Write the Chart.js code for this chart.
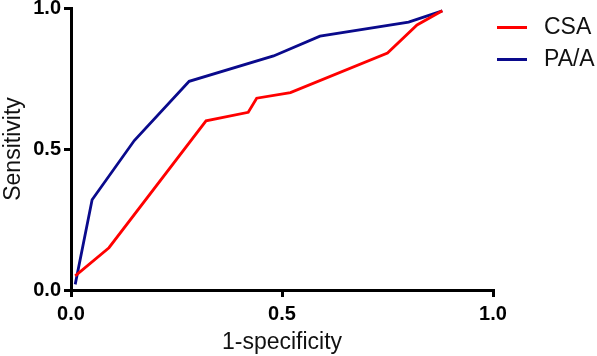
<!DOCTYPE html>
<html>
<head>
<meta charset="utf-8">
<script src="https://cdn.jsdelivr.net/npm/chart.js@4.4.0/dist/chart.umd.min.js"></script>
<style>
  html, body { margin: 0; padding: 0; background: #fff; }
  #wrap { position: relative; width: 597px; height: 356px; }
  #legend { position: absolute; left: 497px; top: 10px; font-family: Arial, "Liberation Sans", sans-serif; font-size: 23px; color: #111; }
  #legend div { height: 32px; display: flex; align-items: center; white-space: nowrap; }
  #legend span { display: inline-block; width: 30px; height: 3px; margin-right: 17px; position: relative; top: 1px; }
</style>
</head>
<body>
<div id="wrap">
  <canvas id="roc" width="597" height="356"></canvas>
  <div id="legend"></div>
</div>
<script>
// 1-specificity / sensitivity
const csaX = [0.01, 0.09, 0.32, 0.42, 0.44, 0.52, 0.75, 0.82, 0.88];
const csaY = [0.05, 0.15, 0.60, 0.63, 0.68, 0.70, 0.84, 0.94, 0.99];
const paX = [0.01, 0.05, 0.15, 0.28, 0.48, 0.59, 0.80, 0.88];
const paY = [0.02, 0.32, 0.53, 0.74, 0.83, 0.90, 0.95, 0.99];
const seriesNames = ['CSA', 'PA/A'];
const seriesColors = ['#ff0000', '#0a0a8c'];

const toPoints = (xs, ys) => xs.map((x, i) => ({ x: x, y: ys[i] }));

const font = 'Arial, "Liberation Sans", sans-serif';

const axis = {
    type: 'linear',
    min: 0,
    max: 1,
    border: { display: true, color: '#000', width: 3 },
    grid: { display: true, drawOnChartArea: false, drawTicks: true, tickLength: 7, color: '#000', lineWidth: 3 },
    ticks: {
        stepSize: 0.5,
        color: '#000',
        font: { family: font, size: 20, weight: 'bold' },
        callback: v => v.toFixed(1)
    },
    title: { display: true, color: '#111', font: { family: font, size: 23 } }
};

new Chart(document.getElementById('roc'), {
    type: 'line',
    data: {
        datasets: [
            { label: seriesNames[0], data: toPoints(csaX, csaY), borderColor: seriesColors[0], borderWidth: 2.8, pointRadius: 0, tension: 0, fill: false },
            { label: seriesNames[1], data: toPoints(paX, paY), borderColor: seriesColors[1], borderWidth: 2.8, pointRadius: 0, tension: 0, fill: false }
        ]
    },
    options: {
        responsive: false,
        animation: false,
        layout: { padding: { top: 8, right: 104, left: 0, bottom: 0 } },
        plugins: { legend: { display: false }, tooltip: { enabled: false } },
        scales: {
            x: Object.assign({}, axis, {
                title: Object.assign({}, axis.title, { text: '1-specificity', padding: { top: 0, bottom: 0 } }),
                ticks: Object.assign({}, axis.ticks, { padding: 5 }),
                afterFit: s => { s.height = 66; }
            }),
            y: Object.assign({}, axis, {
                title: Object.assign({}, axis.title, { text: 'Sensitivity', padding: { top: 0, bottom: 0 } }),
                ticks: Object.assign({}, axis.ticks, { padding: 3 }),
                afterFit: s => { s.width = 71; s.paddingTop = 0; s.paddingBottom = 0; }
            })
        }
    }
});

// legend as html next to the plot
const legend = document.getElementById('legend');
seriesNames.forEach((name, i) => {
    const row = document.createElement('div');
    row.innerHTML = '<span style="background:' + seriesColors[i] + '"></span>' + name;
    legend.appendChild(row);
});
</script>
</body>
</html>
